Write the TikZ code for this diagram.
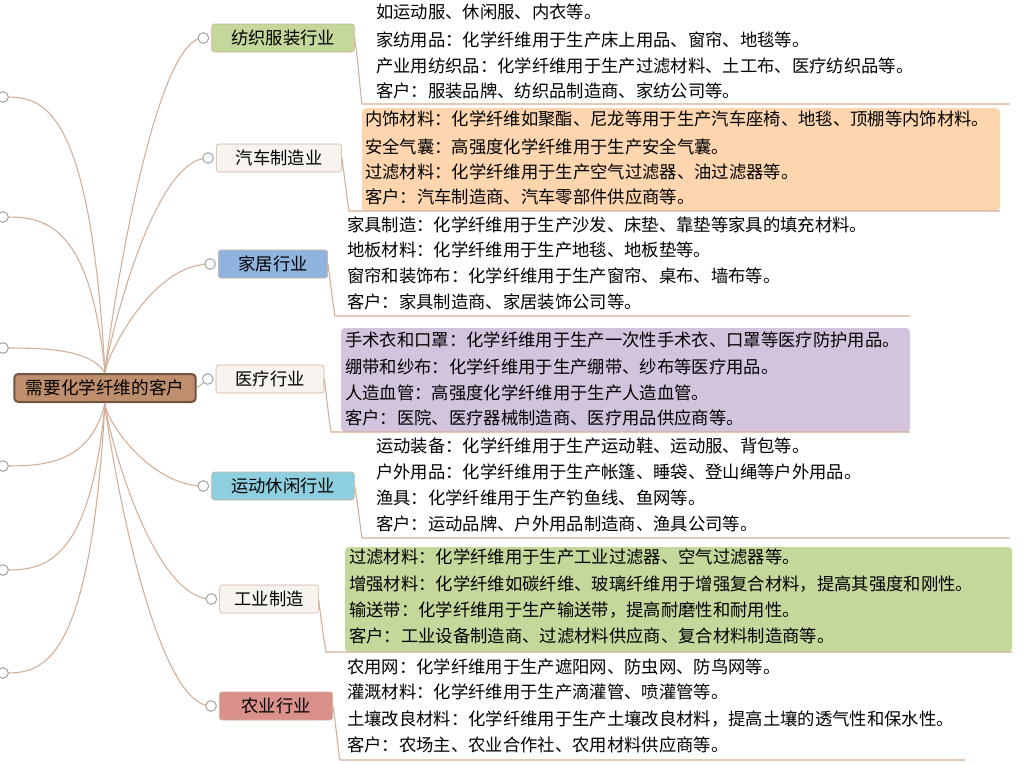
\documentclass[tikz,border=0pt]{standalone}
\usepackage{fontspec}
\setmainfont{Noto Sans CJK SC}
\definecolor{linec}{HTML}{D2AE96}
\definecolor{rootc}{HTML}{BF8E6D}
\definecolor{rootd}{HTML}{6E5443}
\definecolor{greenc}{HTML}{C4D89B}
\definecolor{paperc}{HTML}{F7F3EF}
\definecolor{bluec}{HTML}{8FB4E0}
\definecolor{cyanc}{HTML}{8ECFDF}
\definecolor{redc}{HTML}{DA918C}
\definecolor{orangec}{HTML}{FDD6B0}
\definecolor{purplec}{HTML}{D3C4DE}
\tikzset{
  branch/.style={draw=linec, rounded corners=2pt, minimum height=21pt, inner xsep=6pt, font=\fontsize{13pt}{14pt}\selectfont},
  leaf/.style={anchor=west, inner sep=0pt, font=\fontsize{13pt}{14pt}\selectfont},
  knob/.style={circle, draw=gray!70, fill=white, minimum size=8pt, inner sep=0pt},
  wire/.style={draw=linec, line width=0.8pt},
}
\begin{document}
\begin{tikzpicture}[x=0.75pt, y=-0.75pt]
\useasboundingbox (0,0) rectangle (1024,764);
% leaf panels
\fill[orangec, rounded corners=3pt] (362,108) rectangle (1000,211);
\fill[purplec, rounded corners=3pt] (341,328) rectangle (910,432);
\fill[greenc, rounded corners=3pt] (345,547) rectangle (1012,652);
% root
\node[draw=rootd, line width=1.5pt, fill=rootc, rounded corners=3pt, minimum width=136pt, minimum height=21pt, font=\fontsize{13.2pt}{14pt}\selectfont] (root) at (105,388) {需要化学纤维的客户};
% branches
\node[branch, fill=greenc, minimum width=107pt] (tex) at (283,38) {纺织服装行业};
\node[branch, fill=paperc, minimum width=94pt] (car) at (279,158) {汽车制造业};
\node[branch, fill=bluec, minimum width=82pt] (home) at (273,264) {家居行业};
\node[branch, fill=paperc, minimum width=81pt] (med) at (270,379) {医疗行业};
\node[branch, fill=cyanc, minimum width=107pt] (sport) at (283,486) {运动休闲行业};
\node[branch, fill=paperc, minimum width=74pt] (ind) at (269,599) {工业制造};
\node[branch, fill=redc, minimum width=85pt] (farm) at (276,706) {农业行业};
% left stubs off the page
\foreach \yy in {97,217,348}
  \draw[wire] (root.north) .. controls (90,\yy) and (40,\yy) .. (3,\yy) node[knob] {};
\foreach \yy in {466,570,673}
  \draw[wire] (root.south) .. controls (90,\yy) and (40,\yy) .. (3,\yy) node[knob] {};
% root to branches
\foreach \b in {tex,car,home}
  \draw[wire] (root.north) .. controls (105,360) and (150,0 |- \b.west) .. ([xshift=-6pt]\b.west) node[knob] {};
\draw[wire] (root.east) -- ([xshift=-6pt]med.west) node[knob] {};
\foreach \b in {sport,ind,farm}
  \draw[wire] (root.south) .. controls (105,420) and (150,0 |- \b.west) .. ([xshift=-6pt]\b.west) node[knob] {};
% leaves
\node[leaf] (t1) at (376,12) {如运动服、休闲服、内衣等。};
\node[leaf] (t2) at (376,40) {家纺用品：化学纤维用于生产床上用品、窗帘、地毯等。};
\node[leaf] (t3) at (376,66) {产业用纺织品：化学纤维用于生产过滤材料、土工布、医疗纺织品等。};
\node[leaf] (t4) at (376,91) {客户：服装品牌、纺织品制造商、家纺公司等。};
\node[leaf] (c1) at (365,119) {内饰材料：化学纤维如聚酯、尼龙等用于生产汽车座椅、地毯、顶棚等内饰材料。};
\node[leaf] (c2) at (365,147) {安全气囊：高强度化学纤维用于生产安全气囊。};
\node[leaf] (c3) at (365,172) {过滤材料：化学纤维用于生产空气过滤器、油过滤器等。};
\node[leaf] (c4) at (365,197) {客户：汽车制造商、汽车零部件供应商等。};
\node[leaf] (h1) at (347,225) {家具制造：化学纤维用于生产沙发、床垫、靠垫等家具的填充材料。};
\node[leaf] (h2) at (347,250) {地板材料：化学纤维用于生产地毯、地板垫等。};
\node[leaf] (h3) at (347,276) {窗帘和装饰布：化学纤维用于生产窗帘、桌布、墙布等。};
\node[leaf] (h4) at (347,302) {客户：家具制造商、家居装饰公司等。};
\node[leaf] (m1) at (345,340) {手术衣和口罩：化学纤维用于生产一次性手术衣、口罩等医疗防护用品。};
\node[leaf] (m2) at (345,367) {绷带和纱布：化学纤维用于生产绷带、纱布等医疗用品。};
\node[leaf] (m3) at (345,393) {人造血管：高强度化学纤维用于生产人造血管。};
\node[leaf] (m4) at (345,418) {客户：医院、医疗器械制造商、医疗用品供应商等。};
\node[leaf] (s1) at (376,446) {运动装备：化学纤维用于生产运动鞋、运动服、背包等。};
\node[leaf] (s2) at (376,472) {户外用品：化学纤维用于生产帐篷、睡袋、登山绳等户外用品。};
\node[leaf] (s3) at (376,498) {渔具：化学纤维用于生产钓鱼线、鱼网等。};
\node[leaf] (s4) at (376,524) {客户：运动品牌、户外用品制造商、渔具公司等。};
\node[leaf] (i1) at (349,557) {过滤材料：化学纤维用于生产工业过滤器、空气过滤器等。};
\node[leaf] (i2) at (349,584) {增强材料：化学纤维如碳纤维、玻璃纤维用于增强复合材料，提高其强度和刚性。};
\node[leaf] (i3) at (349,610) {输送带：化学纤维用于生产输送带，提高耐磨性和耐用性。};
\node[leaf] (i4) at (349,636) {客户：工业设备制造商、过滤材料供应商、复合材料制造商等。};
\node[leaf] (f1) at (347,667) {农用网：化学纤维用于生产遮阳网、防虫网、防鸟网等。};
\node[leaf] (f2) at (347,692) {灌溉材料：化学纤维用于生产滴灌管、喷灌管等。};
\node[leaf] (f3) at (347,719) {土壤改良材料：化学纤维用于生产土壤改良材料，提高土壤的透气性和保水性。};
\node[leaf] (f4) at (347,745) {客户：农场主、农业合作社、农用材料供应商等。};
% brackets under the leaves
\coordinate (te) at (1010,104); \coordinate (ce) at (1000,211);
\coordinate (he) at (910,316); \coordinate (me) at (910,432);
\coordinate (se) at (1010,538); \coordinate (ie) at (1012,652);
\coordinate (fe) at (965,760);
\draw[wire] (tex.east) .. controls (358,60) and (360,90) .. (362,104) -- (te);
\draw[wire] (car.east) .. controls (345,180) and (347,200) .. (349,211) -- (ce);
\draw[wire] (home.east) .. controls (331,285) and (333,305) .. (335,316) -- (he);
\draw[wire] (med.east) .. controls (327,400) and (329,420) .. (331,432) -- (me);
\draw[wire] (sport.east) .. controls (358,505) and (360,525) .. (362,538) -- (se);
\draw[wire] (ind.east) .. controls (321,620) and (324,640) .. (326,652) -- (ie);
\draw[wire] (farm.east) .. controls (336,725) and (338,750) .. (340,760) -- (fe);
\end{tikzpicture}
\end{document}
